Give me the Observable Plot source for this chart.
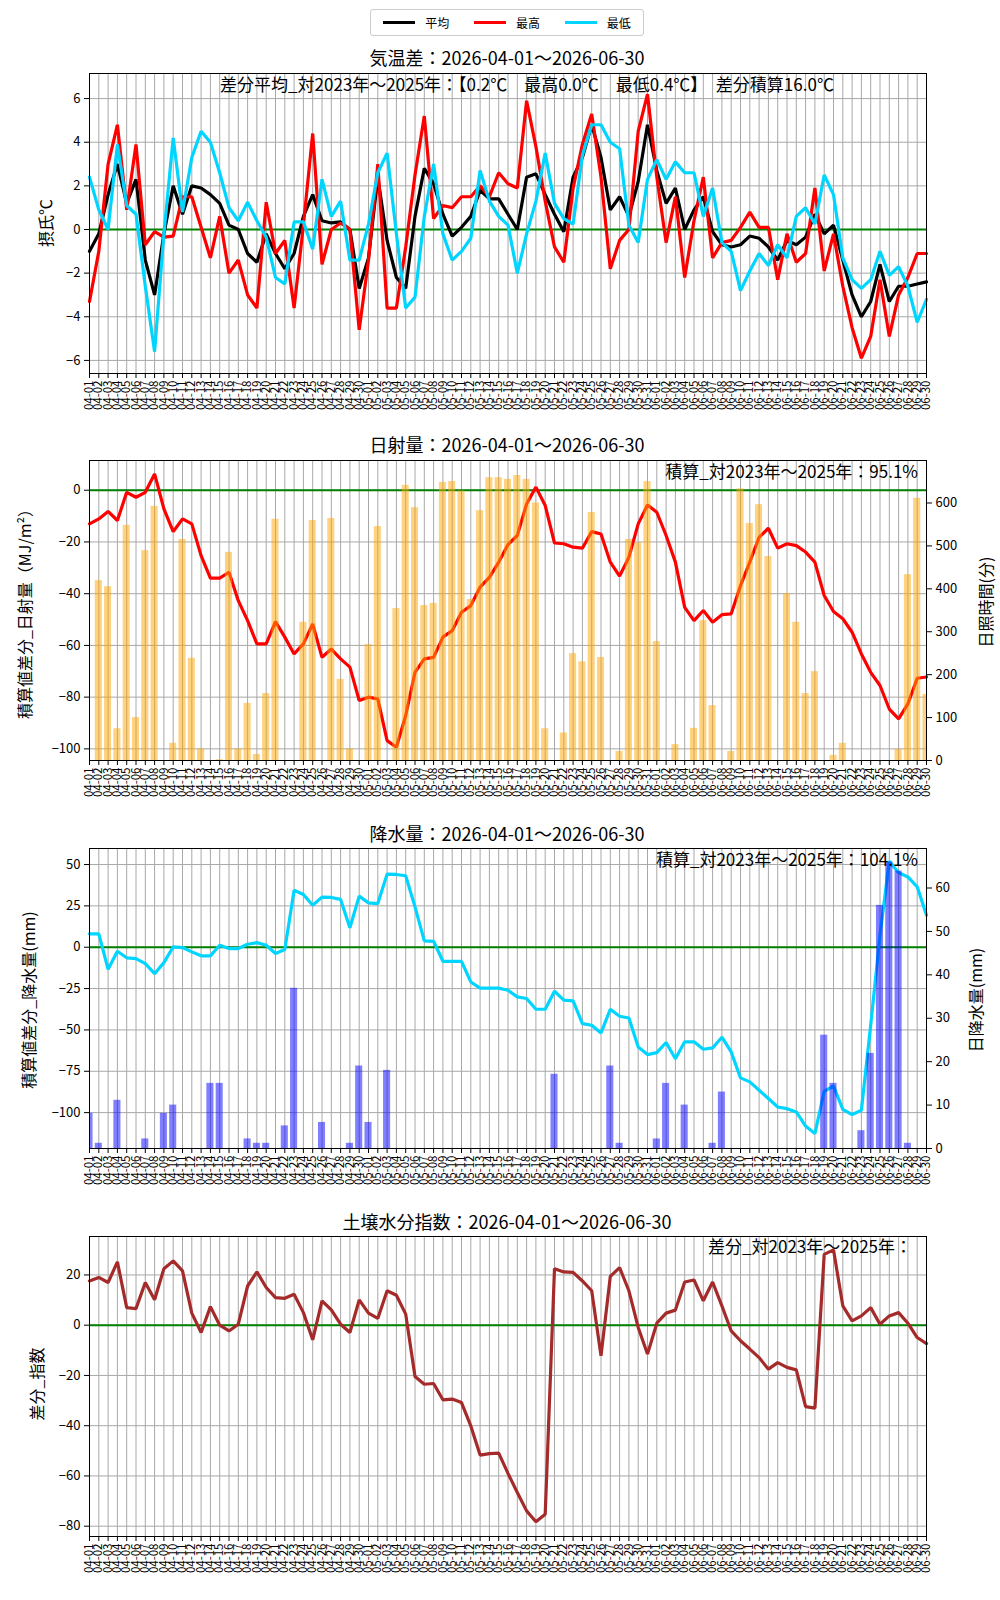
<!DOCTYPE html>
<html><head><meta charset="utf-8">
<script src="https://cdn.jsdelivr.net/npm/d3@7"></script>
<script src="https://cdn.jsdelivr.net/npm/@observablehq/plot@0.6"></script>
<style>
body{margin:0;background:#fff;font-family:"Noto Sans CJK JP","DejaVu Sans",sans-serif;}
#page{position:relative;width:1000px;height:1600px;}
.abs{position:absolute;white-space:nowrap;color:#000;}
.title{font-size:18px;transform:translateX(-50%);}
.vlab{font-size:16px;transform-origin:center;}
</style></head><body><div id="page"></div>
<script>
const dates = d3.utcDay.range(new Date(Date.UTC(2026,3,1)), new Date(Date.UTC(2026,6,1))).map(d3.utcFormat("%m-%d"));
const idx = dates.map((d,i)=>i);

const tempMean = [-1.0,-0.2,1.6,3.0,1.2,2.3,-1.4,-3.0,-0.2,2.0,0.7,2.0,1.9,1.6,1.2,0.2,0,-1.1,-1.5,-0.2,-1.1,-1.8,-1.1,0.6,1.6,0.4,0.3,0.35,0,-2.7,-1.3,2.4,-0.5,-2.2,-2.7,0.6,2.8,2.1,0.7,-0.3,0.1,0.6,1.8,1.4,1.4,0.7,0,2.4,2.55,1.6,0.7,-0.1,2.4,3.3,4.8,3.3,0.9,1.5,0.6,2.2,4.8,2.7,1.2,1.9,0,0.9,1.5,-0.1,-0.7,-0.8,-0.7,-0.3,-0.4,-0.8,-1.4,-0.5,-0.7,-0.35,0.7,-0.2,0.2,-1.4,-3.0,-4.0,-3.3,-1.6,-3.3,-2.6,-2.6,-2.5,-2.4];
const tempMax = [-3.3,-1.0,3.0,4.8,0.9,3.9,-0.7,-0.1,-0.35,-0.3,1.5,1.5,0.1,-1.3,0.6,-2.0,-1.4,-3.0,-3.6,1.25,-1.1,-0.5,-3.6,0.2,4.4,-1.6,0,0.3,0,-4.6,-1.4,3.0,-3.6,-3.6,-0.8,2.5,5.2,0.5,1.1,1.0,1.5,1.5,2.0,1.5,2.6,2.1,1.9,5.9,3.8,1.3,-0.8,-1.5,1.9,3.9,5.3,2.4,-1.8,-0.5,0,4.5,6.2,2.4,-0.6,1.5,-2.2,0.4,2.4,-1.3,-0.6,-0.5,0.1,0.8,0.1,0.1,-2.3,-0.2,-1.5,-1.1,1.9,-1.9,-0.2,-2.6,-4.5,-5.9,-4.9,-2.3,-4.9,-3.0,-2.2,-1.1,-1.1];
const tempMin = [2.4,0.9,0,3.9,1.1,0.7,-2.6,-5.6,-0.2,4.2,0.8,3.3,4.5,4.0,2.6,1.0,0.4,1.25,0.4,-0.35,-2.2,-2.5,0.35,0.35,-0.9,2.3,0.6,1.3,-1.4,-1.4,0.25,2.6,3.5,-0.2,-3.6,-3.1,0.6,3.0,-0.2,-1.4,-1.0,-0.4,2.7,1.3,0.6,0.2,-2.0,-0.2,1.3,3.5,1.2,0.5,0.25,3.4,4.8,4.8,4.0,3.7,0.2,-0.6,2.3,3.2,2.3,3.1,2.6,2.6,0.6,1.9,-0.6,-1.0,-2.8,-1.9,-1.1,-1.65,-0.7,-1.3,0.6,1.0,0.25,2.5,1.6,-1.3,-2.3,-2.7,-2.3,-1.0,-2.1,-1.7,-2.6,-4.25,-3.2];

const solarCum = [-13.0,-11.1,-8.2,-11.7,-0.8,-2.7,-0.8,6.3,-7.2,-16.0,-11.1,-13.0,-25.3,-34.0,-34.0,-31.7,-42.7,-50.4,-59.4,-59.4,-50.8,-56.8,-63.3,-59.4,-51.7,-64.6,-61.4,-65.2,-68.4,-81.3,-80.0,-80.7,-96.8,-99.4,-87.1,-70.4,-65.2,-64.6,-56.8,-54.3,-47.2,-44.6,-37.5,-33.7,-27.8,-21.0,-17.5,-5.3,1.2,-5.9,-20.4,-20.7,-22.0,-22.4,-16.0,-16.9,-27.8,-33.2,-25.9,-13.0,-5.7,-8.5,-17.5,-27.8,-45.3,-50.4,-46.5,-51.0,-48.1,-47.8,-36.9,-27.8,-18.2,-14.7,-22.4,-20.7,-21.4,-23.9,-27.8,-40.7,-46.9,-49.7,-54.9,-63.3,-70.4,-75.5,-84.6,-88.4,-82.6,-72.7,-72.2];
const sunMinutes = [0,419,405,74,548,100,489,592,0,40,515,238,27,0,2,485,27,133,14,156,562,0,0,322,559,0,564,189,27,0,270,545,0,354,641,589,361,366,648,650,628,375,582,659,659,655,664,655,600,74,0,64,249,230,578,240,0,21,515,507,650,277,0,37,0,75,326,128,0,21,633,552,596,475,0,389,322,156,207,0,12,40,0,0,0,0,0,26,433,611,154];

const rainCum = [8.1,8.1,-13.3,-2.4,-6.4,-6.9,-9.9,-16.0,-9.3,0.2,-0.2,-2.8,-5.2,-5.2,1.2,-0.8,-0.8,1.8,2.8,1.2,-3.8,-1.4,34.5,31.9,25.4,30.3,30.1,28.9,11.8,30.9,26.8,26.4,44.2,44.0,43.2,24.4,3.8,3.6,-8.5,-8.5,-8.5,-21.0,-24.7,-24.7,-24.7,-26.0,-30.0,-31.0,-37.5,-37.5,-26.6,-32.0,-32.4,-46.2,-47.2,-51.8,-37.5,-41.7,-42.8,-60.3,-64.9,-63.7,-57.6,-67.4,-57.2,-57.2,-61.7,-60.9,-54.4,-63.3,-79.0,-81.4,-86.5,-91.5,-96.6,-97.6,-99.6,-108.1,-112.7,-87.1,-83.9,-98.0,-101.2,-98.6,-47.2,7.3,52.0,45.1,42.5,36.5,19.3];
const rainDaily = [8.1,1.2,0,11.1,0,0,2.2,0,8.1,10.0,0,0,0,15.0,15.0,0,0,2.2,1.2,1.2,0,5.2,36.9,0,0,6.0,0,0,1.2,19.0,6.0,0,18.0,0,0,0,0,0,0,0,0,0,0,0,0,0,0,0,0,0,17.1,0,0,0,0,0,19.0,1.2,0,0,0,2.2,15.0,0,10.0,0,0,1.2,13.0,0,0,0,0,0,0,0,0,0,0,26.1,15.0,0,0,4.1,21.9,56.0,66.0,63.9,1.2,0,0];

const soilDiff = [17.6,19.0,17.0,25.2,7.0,6.6,17.0,10.1,22.5,25.6,21.6,4.8,-2.9,7.4,0,-2.3,0.4,15.6,21.2,15.0,11.0,10.7,12.3,5.0,-5.8,9.7,6.1,0.4,-2.9,10.1,4.8,2.7,13.7,11.9,4.4,-20.4,-23.5,-23.2,-29.7,-29.4,-30.8,-40.1,-51.7,-51.1,-50.9,-59.0,-66.6,-73.9,-78.2,-75.2,22.5,21.2,21.0,17.6,13.7,-12.2,19.4,22.9,13.7,-0.9,-11.5,0.8,4.8,6.0,17.2,18.0,9.7,17.2,7.7,-2.3,-6.2,-9.5,-12.9,-17.5,-14.9,-16.8,-17.8,-32.4,-33.0,28.2,30.0,7.7,1.7,3.7,7.0,0.4,3.7,5.0,0.8,-4.9,-7.3];

const legendItems = ["平均","最高","最低"];
const legendColors = ["#000000","#ff0000","#00d5ff"];

const page = document.getElementById("page");
const FONT = '"Noto Sans CJK JP","DejaVu Sans",sans-serif';
function addText(txt, x, y, cls, extra){
  const d = document.createElement("div"); d.className = "abs " + (cls||""); d.textContent = txt;
  d.style.left = x + "px"; d.style.top = y + "px"; if (extra) Object.assign(d.style, extra); page.appendChild(d); return d;
}
function vlabel(txt, cx, cy, rot){
  const d = addText(txt, 0, 0, "vlab");
  const w = d.offsetWidth, h = d.offsetHeight;
  d.style.left = (cx - w/2) + "px"; d.style.top = (cy - h/2) + "px";
  d.style.transform = "rotate(" + rot + "deg)";
}
const MT = 5, PH = 300;
function panel(top, domain, yticks, marks, right){
  const axes = [
    Plot.gridX(idx, {stroke:"#a8a8a8", strokeOpacity:1, strokeWidth:1}),
    Plot.gridY(yticks, {stroke:"#a8a8a8", strokeOpacity:1, strokeWidth:1}),
    Plot.ruleY([0], {stroke:"green", strokeWidth:2}),
    ...marks,
    Plot.frame({stroke:"black", strokeWidth:1}),
    Plot.axisY(yticks, {anchor:"left", tickSize:5, fontSize:13, tickPadding:4}),
    Plot.axisX(idx, {anchor:"bottom", tickFormat:i=>dates[i], tickRotate:-90, fontSize:11.5, tickSize:5, tickPadding:2})
  ];
  if (right) axes.push(Plot.axisY(right.ticks, {anchor:"right", tickFormat:right.fmt, tickSize:5, fontSize:13, tickPadding:4}));
  const svg = Plot.plot({
    width:1000, height:PH+MT+70, marginLeft:89, marginRight:74, marginTop:MT, marginBottom:70,
    style:{fontFamily:FONT, fontSize:"13px", color:"#000", background:"transparent"},
    x:{domain:[0,90]}, y:{domain:domain}, marks:axes
  });
  svg.style.position = "absolute"; svg.style.left = "0px"; svg.style.top = (top - MT) + "px";
  page.appendChild(svg);
}
const lineOpt = (c)=>({x:(d,i)=>i, y:d=>d, stroke:c, strokeWidth:3.2, strokeLinejoin:"miter"});

// Legend
const leg = document.createElement("div"); leg.className="abs";
Object.assign(leg.style,{left:"370px",top:"9px",width:"272px",height:"25px",border:"1px solid #ccc",borderRadius:"3px",fontSize:"12px",display:"flex",alignItems:"center",justifyContent:"space-around"});
legendItems.forEach((t,k)=>{const s=document.createElement("span");s.style.display="flex";s.style.alignItems="center";
  s.innerHTML='<span style="display:inline-block;width:32px;height:3px;background:'+legendColors[k]+';margin-right:10px"></span>'+t; leg.appendChild(s);});
page.appendChild(leg);

// Panel 1: temperature
panel(73, [-6.6,7.15], [-6,-4,-2,0,2,4,6], [
  Plot.line(tempMean, lineOpt("#000000")),
  Plot.line(tempMax, lineOpt("#ff0000")),
  Plot.line(tempMin, lineOpt("#00d5ff"))
]);
addText("気温差：2026-04-01～2026-06-30", 507, 44, "title");
addText("差分平均_対2023年～2025年：【0.2℃　最高0.0℃　最低0.4℃】　差分積算16.0℃", 527, 71, "title", {fontSize:"17px"});
vlabel("摂氏℃", 45, 223, -90);

// Panel 2: solar
const sLo=-104.5, sHi=11.5, sRmax=699;
const s2l = v => sLo + v*(sHi-sLo)/sRmax;
panel(460, [sLo,sHi], [-100,-80,-60,-40,-20,0], [
  Plot.line(solarCum, lineOpt("#ff0000")),
  Plot.rectY(sunMinutes, {x1:(d,i)=>i-0.38, x2:(d,i)=>i+0.38, y1:sLo, y2:d=>s2l(d), fill:"orange", fillOpacity:0.5, clip:true})
], {ticks:[0,100,200,300,400,500,600].map(s2l), fmt:v=>Math.round((v-sLo)*sRmax/(sHi-sLo))});
addText("日射量：2026-04-01～2026-06-30", 507, 431, "title");
addText("積算_対2023年～2025年：95.1%", 0, 458, "", {fontSize:"17px", left:"auto", right:(1000-918)+"px"});
vlabel("積算値差分_日射量（MJ/m²）", 24, 610, -90);
vlabel("日照時間(分)", 985, 602, -90);

// Panel 3: precipitation
const pLo=-121.7, pHi=59.7, pRmax=69.1;
const p2l = v => pLo + v*(pHi-pLo)/pRmax;
panel(848, [pLo,pHi], [-100,-75,-50,-25,0,25,50], [
  Plot.line(rainCum, lineOpt("#00d5ff")),
  Plot.rectY(rainDaily, {x1:(d,i)=>i-0.38, x2:(d,i)=>i+0.38, y1:pLo, y2:d=>p2l(d), fill:"blue", fillOpacity:0.5, clip:true})
], {ticks:[0,10,20,30,40,50,60].map(p2l), fmt:v=>Math.round((v-pLo)*pRmax/(pHi-pLo))});
addText("降水量：2026-04-01～2026-06-30", 507, 820, "title");
addText("積算_対2023年～2025年：104.1%", 0, 846, "", {fontSize:"17px", left:"auto", right:(1000-918)+"px"});
vlabel("積算値差分_降水量(mm)", 27, 1000, -90);
vlabel("日降水量(mm)", 975, 1000, -90);

// Panel 4: soil
panel(1236, [-84.1,35.3], [-80,-60,-40,-20,0,20], [
  Plot.line(soilDiff, lineOpt("#a52a2a"))
]);
addText("土壌水分指数：2026-04-01～2026-06-30", 507, 1208, "title");
addText("差分_対2023年～2025年：", 0, 1233, "", {fontSize:"17px", left:"auto", right:(1000-912)+"px"});
vlabel("差分_指数", 36, 1384, -90);
</script></body></html>
